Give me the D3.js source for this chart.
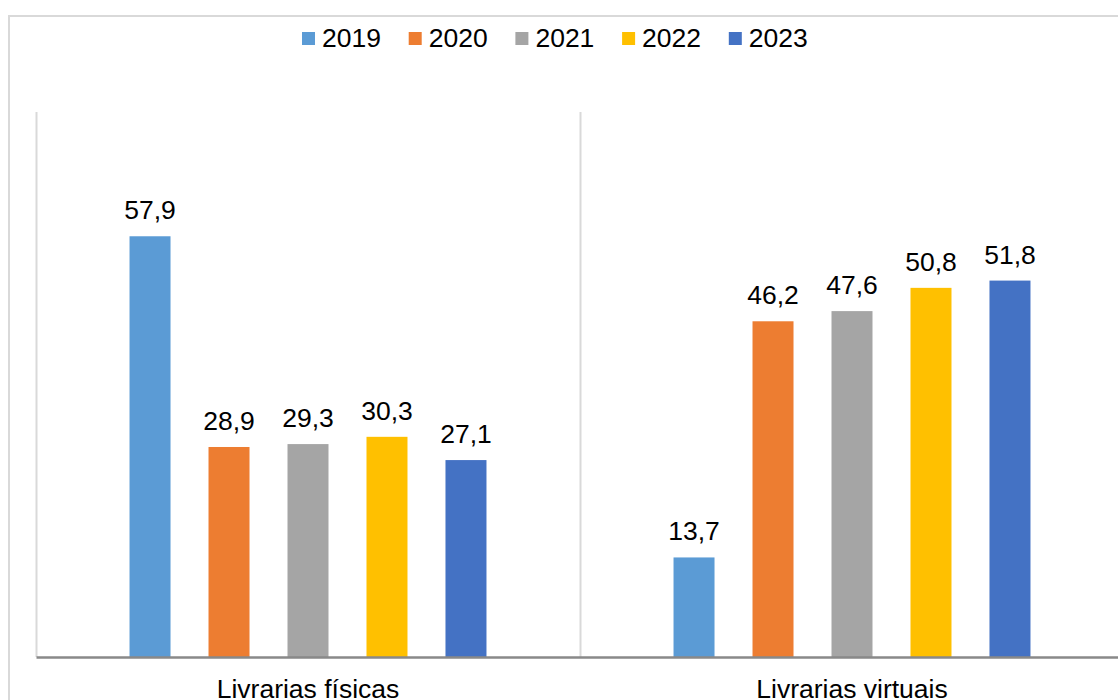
<!DOCTYPE html>
<html>
<head>
<meta charset="utf-8">
<script src="https://cdn.jsdelivr.net/npm/d3@7"></script>
<style>
  body { margin: 0; background: #fff; }
  svg { display: block; font-family: "Liberation Sans", Arial, sans-serif; }
</style>
</head>
<body>
<div id="chart"></div>
<script>
// Data
var categories = ["Livrarias físicas", "Livrarias virtuais"];
var years      = ["2019", "2020", "2021", "2022", "2023"];
var fisicas    = [57.9, 28.9, 29.3, 30.3, 27.1];
var virtuais   = [13.7, 46.2, 47.6, 50.8, 51.8];
var colors     = ["#5B9BD5", "#ED7D31", "#A5A5A5", "#FFC000", "#4472C4"];

(function() {
  var W = 1118, H = 700;
  var plot = { left: 36, right: 1124, top: 112, bottom: 657 };
  var fontSize = 26.5;

  var series = [fisicas, virtuais];
  var fmt = function(v) { return d3.format(".1f")(v).replace(".", ","); };

  var svg = d3.select("#chart").append("svg")
    .attr("width", W)
    .attr("height", H);

  // Outer chart frame
  svg.append("rect")
    .attr("x", 9).attr("y", 16)
    .attr("width", 1200).attr("height", 800)
    .attr("fill", "none")
    .attr("stroke", "#d9d9d9")
    .attr("stroke-width", 2);

  // Scales
  var x = d3.scaleBand()
    .domain(categories)
    .range([plot.left, plot.right]);

  var xi = d3.scaleBand()
    .domain(years)
    .range([0, x.bandwidth()])
    .paddingInner(0.481)
    .paddingOuter(1.184);

  var y = d3.scaleLinear()
    .domain([0, 75])
    .range([plot.bottom, plot.top]);

  // Vertical gridlines between categories
  var edges = [plot.left].concat(categories.slice(1).map(function(c) { return x(c); }));
  svg.append("g").selectAll("line")
    .data(edges)
    .enter().append("line")
      .attr("x1", function(d) { return d + 0.5; })
      .attr("x2", function(d) { return d + 0.5; })
      .attr("y1", plot.top)
      .attr("y2", plot.bottom)
      .attr("stroke", "#d9d9d9")
      .attr("stroke-width", 2);

  // Bars
  var groups = svg.append("g").selectAll("g.group")
    .data(categories)
    .enter().append("g")
      .attr("class", "group")
      .attr("transform", function(d) { return "translate(" + x(d) + ",0)"; });

  groups.each(function(cat, ci) {
    var g = d3.select(this);
    var vals = years.map(function(yr, i) { return { year: yr, value: series[ci][i], color: colors[i] }; });

    g.selectAll("rect")
      .data(vals)
      .enter().append("rect")
        .attr("x", function(d) { return xi(d.year); })
        .attr("y", function(d) { return y(d.value); })
        .attr("width", xi.bandwidth())
        .attr("height", function(d) { return y(0) - y(d.value); })
        .attr("fill", function(d) { return d.color; });

    g.selectAll("text.val")
      .data(vals)
      .enter().append("text")
        .attr("class", "val")
        .attr("x", function(d) { return xi(d.year) + xi.bandwidth() / 2; })
        .attr("y", function(d) { return y(d.value) - 17; })
        .attr("text-anchor", "middle")
        .attr("font-size", fontSize)
        .attr("fill", "#000")
        .text(function(d) { return fmt(d.value); });
  });

  // Baseline axis
  var axis = d3.axisBottom(x).tickSize(0);
  var ax = svg.append("g")
    .attr("transform", "translate(0," + plot.bottom + ")")
    .call(axis);
  ax.select(".domain")
    .attr("stroke", "#898989")
    .attr("stroke-width", 2.5);
  ax.selectAll(".tick text")
    .attr("font-size", fontSize)
    .attr("font-family", "Liberation Sans, Arial, sans-serif")
    .attr("fill", "#000")
    .attr("dy", 0)
    .attr("y", 41);

  // Legend
  var legend = svg.append("g").attr("transform", "translate(302,32)");
  var items = legend.selectAll("g")
    .data(years)
    .enter().append("g")
      .attr("transform", function(d, i) { return "translate(" + (i * 106.7) + ",0)"; });

  items.append("rect")
    .attr("width", 13)
    .attr("height", 13)
    .attr("fill", function(d, i) { return colors[i]; });

  items.append("text")
    .attr("x", 20)
    .attr("y", 15)
    .attr("font-size", fontSize)
    .attr("fill", "#000")
    .text(function(d) { return d; });
})();
</script>
</body>
</html>
